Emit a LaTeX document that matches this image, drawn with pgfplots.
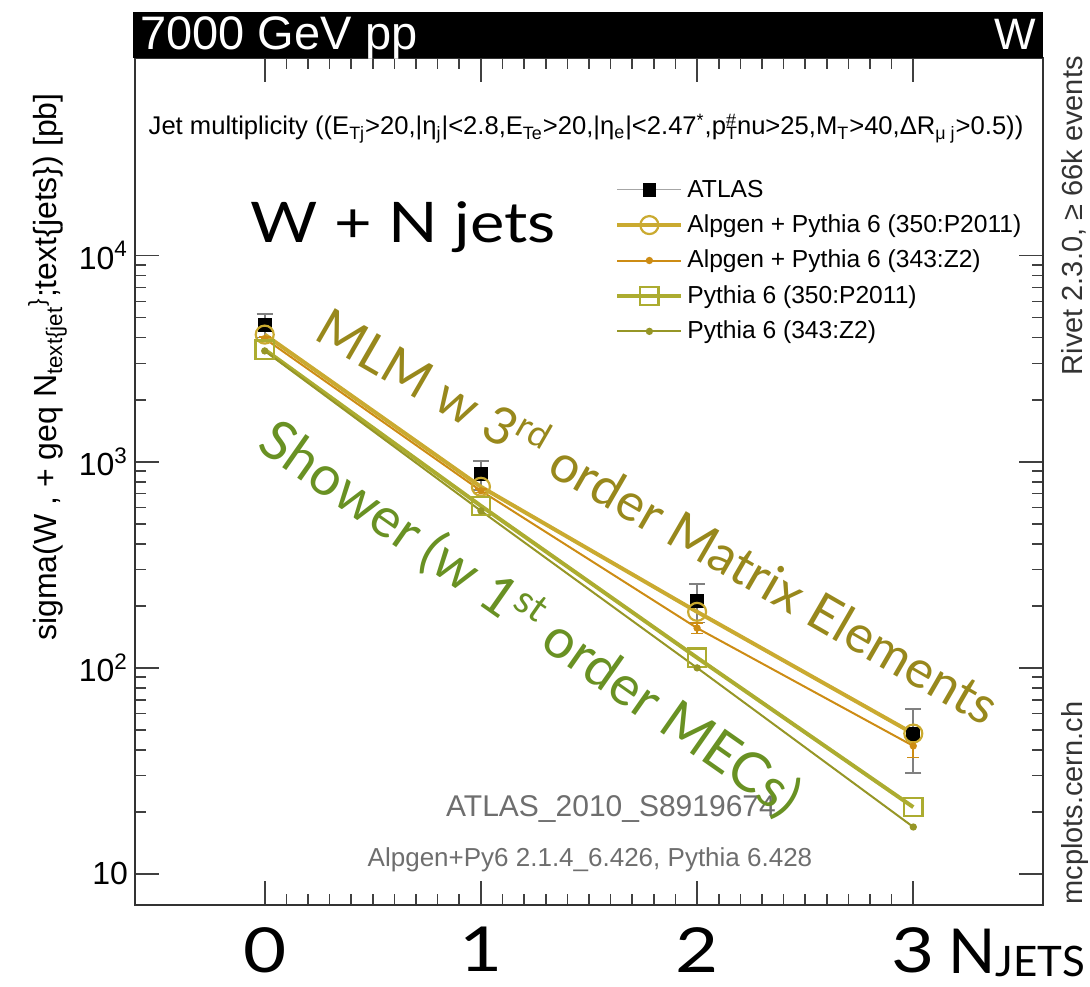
\documentclass[border=0pt]{standalone}
\usepackage{pgfplots}
\pgfplotsset{compat=1.18}
\usepackage{fontspec}
\setmainfont{Liberation Sans}
\newfontfamily\lato{Lato}
\definecolor{cA}{RGB}{202,170,48}
\definecolor{cB}{RGB}{205,140,20}
\definecolor{cC}{RGB}{172,172,48}
\definecolor{cD}{RGB}{150,150,38}
\definecolor{cMLM}{RGB}{152,136,28}
\definecolor{cSh}{RGB}{105,145,35}
\definecolor{gtxt}{RGB}{110,110,110}
\begin{document}
\begin{tikzpicture}
\begin{axis}[
  at={(0,0)}, anchor=south west,
  scale only axis, width=454pt, height=423.5pt,
  xmin=-0.6, xmax=3.6, ymode=log, ymin=7.07, ymax=91000,
  xtick={0,1,2,3}, xticklabels={\scalebox{1.2}[1]{0},\scalebox{1.2}[1]{1},\scalebox{1.2}[1]{2},\scalebox{1.2}[1]{3}},
  minor x tick num=9,
  ytick={10,100,1000,10000},
  yticklabels={10,10\textsuperscript{2},10\textsuperscript{3},10\textsuperscript{4}},
  xtick pos=both, ytick pos=both,
  tick align=inside, major tick length=12pt, minor tick length=5.5pt,
  axis line style={line width=1pt, black!80},
  every tick/.style={line width=0.8pt, black!75},
  yticklabel style={font=\fontsize{16}{16}\selectfont},
  xticklabel style={font=\lato\fontsize{31}{31}\selectfont, inner sep=0pt, anchor=north, yshift=-11pt},
  legend style={at={(0.522,0.866)}, anchor=north west, draw=none, fill=none,
    font=\fontsize{12.3}{12.3}\selectfont, row sep=3.3pt},
  legend cell align=left,
  legend image code/.code={\draw[mark repeat=2,mark phase=2] plot coordinates {(0pt,0pt) (16pt,0pt) (32pt,0pt)};},
]
\addplot[black, only marks, mark=square*, mark size=3.2pt,
  legend image code/.code={\draw[gray!70, line width=0.5pt] (0pt,0pt)--(32pt,0pt); \fill[black] (12.8pt,-3.2pt) rectangle (19.2pt,3.2pt);},
  error bars/.cd, y dir=both, y explicit,
  error bar style={color=gray, line width=0.8pt},
  error mark options={rotate=90, mark size=4pt, color=gray, line width=0.8pt}]
  coordinates {(0,4600) +- (0,600) (1,870) +- (0,140) (2,211) +- (0,45) (3,48) += (0,15) -= (0,17)};
\addlegendentry{ATLAS}
\addplot[cA, line width=2pt, mark=o, mark size=4.5pt, mark options={line width=1.1pt}]
  coordinates {(0,4140) (1,756) (2,187) (3,48)};
\addlegendentry{Alpgen + Pythia 6 (350:P2011)}
\addplot[cB, line width=1pt, mark=*, mark size=1.3pt,
  error bars/.cd, y dir=both, y explicit,
  error bar style={color=cB, line width=0.8pt},
  error mark options={rotate=90, mark size=3pt, color=cB, line width=0.8pt}]
  coordinates {(0,3960) +- (0,60) (1,723) +- (0,15) (2,156) +- (0,9) (3,41.8) +- (0,5)};
\addlegendentry{Alpgen + Pythia 6 (343:Z2)}
\addplot[cC, line width=2pt, mark=square, mark size=4.6pt, mark options={line width=1.1pt}]
  coordinates {(0,3500) (1,611) (2,112) (3,21.1)};
\addlegendentry{Pythia 6 (350:P2011)}
\addplot[cD, line width=1pt, mark=*, mark size=1.3pt]
  coordinates {(0,3450) (1,578) (2,100) (3,16.9)};
\addlegendentry{Pythia 6 (343:Z2)}
\end{axis}
\begin{scope}[x=0.5pt, y=-0.5pt, shift={(-135,-905)}]
  % title bar
  \fill[black] (133,12) rectangle (1043,58);
  \node[white, anchor=base west, inner sep=0pt, font=\fontsize{23.5}{23.5}\selectfont] at (140,50) {7000 GeV pp};
  \node[white, anchor=base east, inner sep=0pt, font=\fontsize{22}{22}\selectfont] at (1036,50) {W};
  % jet multiplicity line
  \node[anchor=base, inner sep=0pt, font=\fontsize{12.8}{12.8}\selectfont] at (586,135)
    {Jet multiplicity ((E\textsubscript{Tj}>20,|η\textsubscript{j}|<2.8,E\textsubscript{Te}>20,|η\textsubscript{e}|<2.47\textsuperscript{*},p\rlap{\textsubscript{T}}\textsuperscript{\#}nu>25,M\textsubscript{T}>40,ΔR\textsubscript{μ j}>0.5))};
  % y label
  \node[rotate=90, anchor=base, inner sep=0pt, font=\fontsize{16}{16}\selectfont] at (57,367)
    {sigma(W , + geq N\textsubscript{text\{jet}\textsuperscript{\}};text\{jets\}) [pb]};
  % right side texts
  \node[rotate=90, anchor=base east, inner sep=0pt, font=\fontsize{14.5}{14.5}\selectfont, black!80] at (1082,56)
    {Rivet 2.3.0, ≥ 66k events};
  \node[rotate=90, anchor=base west, inner sep=0pt, font=\fontsize{14.5}{14.5}\selectfont, black!80] at (1082,905)
    {mcplots.cern.ch};
  % gray info texts
  \node[gtxt, anchor=base, inner sep=0pt, font=\fontsize{15}{15}\selectfont] at (611,816) {ATLAS\_2010\_S8919674};
  \node[gtxt, anchor=base, inner sep=0pt, font=\fontsize{13}{13}\selectfont] at (590,866) {Alpgen+Py6 2.1.4\_6.426, Pythia 6.428};
  % overlay texts
  \node[anchor=base west, inner sep=0pt, font=\lato\fontsize{28}{28}\selectfont] at (250,243) {\scalebox{1.16}[1]{W + N jets}};
  \node[cMLM, rotate=-30, anchor=base, inner sep=0pt, font=\lato\fontsize{26}{26}\selectfont] at (649,533)
    {MLM w 3\textsuperscript{rd} order Matrix Elements};
  \node[cSh, rotate=-35, anchor=base, inner sep=0pt, font=\lato\fontsize{27.5}{27.5}\selectfont] at (520,634)
    {Shower (w 1\textsuperscript{st} order MECs)};
  \node[anchor=base west, inner sep=0pt, font=\lato\fontsize{31}{31}\selectfont] at (948,973)
    {N\raisebox{-1.5pt}{\fontsize{21}{21}\selectfont JETS}};
  \pgfresetboundingbox
  \path[use as bounding box] (0,0) rectangle (1090,986);
\end{scope}
\end{tikzpicture}
\end{document}
